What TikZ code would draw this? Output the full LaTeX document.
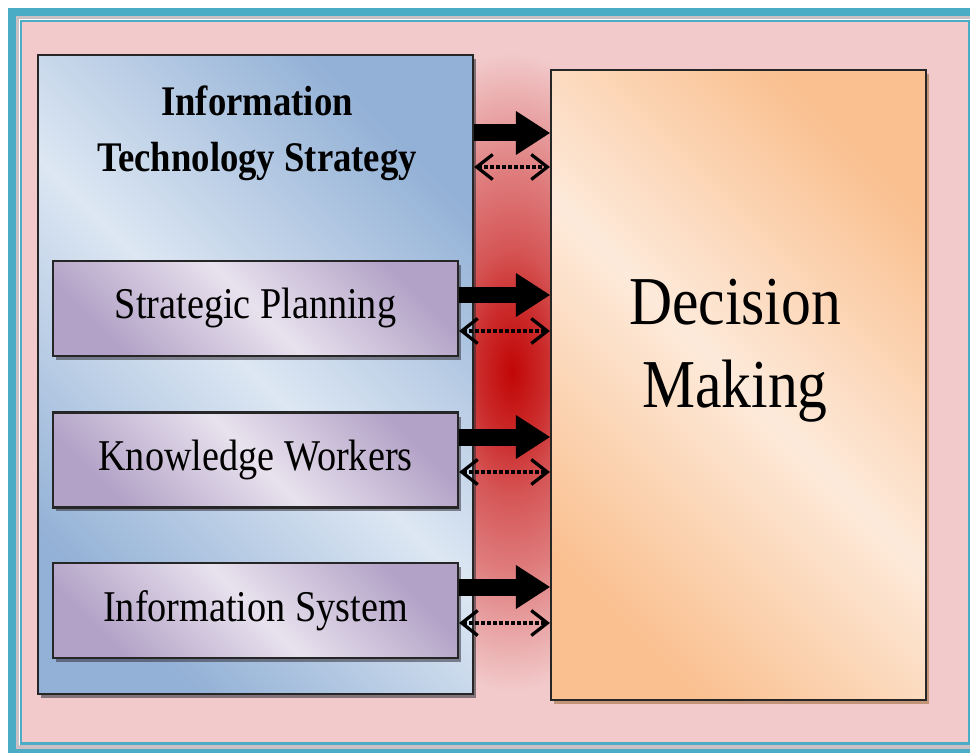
\documentclass[tikz,border=0pt]{standalone}
\usepackage{fontspec}
\setmainfont{Liberation Serif}[FakeStretch=0.87]
\usepackage{xcolor}
\usetikzlibrary{positioning}
\usetikzlibrary{arrows.meta}
\usetikzlibrary{shadows}

\definecolor{frameteal}{HTML}{4BACC6}
\definecolor{framegray}{HTML}{C9BFC4}
\definecolor{bgpink}{HTML}{F2CACB}
\definecolor{glowred}{HTML}{C20606}
\definecolor{bluedark}{HTML}{93B1D6}
\definecolor{bluelight}{HTML}{DDE7F3}
\definecolor{purpledark}{HTML}{B3A2C7}
\definecolor{purplelight}{HTML}{E8E2EE}
\definecolor{peachdark}{HTML}{FAC090}
\definecolor{peachlight}{HTML}{FDEADA}

\pgfdeclareradialshading{redglow}{\pgfpoint{0bp}{0bp}}{color(0bp)=(glowred); color(5.5bp)=(glowred!80!bgpink); color(9.5bp)=(glowred!60!bgpink); color(15.5bp)=(glowred!40!bgpink); color(22bp)=(glowred!12!bgpink); color(25bp)=(bgpink); color(50bp)=(bgpink)}

\tikzset{
  boxline/.style={draw=black!85, line width=0.045cm, inner sep=0pt},
  itbox/.style={boxline, top color=bluedark, bottom color=bluedark, middle color=bluelight,
    shading angle=-45, minimum width=8.7cm, minimum height=12.78cm,
    drop shadow={shadow xshift=0.06cm, shadow yshift=-0.08cm, fill=black!75!bluedark, opacity=0.55}},
  subbox/.style={boxline, top color=purpledark, bottom color=purpledark, middle color=purplelight,
    shading angle=-45, minimum width=8.1cm, minimum height=1.9cm,
    font=\fontsize{25}{30}\selectfont,
    drop shadow={shadow xshift=0.06cm, shadow yshift=-0.08cm, fill=black!70!purpledark, opacity=0.55}},
  dmbox/.style={boxline, top color=peachdark, bottom color=peachdark, middle color=peachlight,
    shading angle=-45, minimum width=7.5cm, minimum height=12.6cm,
    drop shadow={shadow xshift=0.06cm, shadow yshift=-0.08cm, fill=brown!80!black, opacity=0.55}},
  ittitle/.style={font=\bfseries\fontsize{24}{32}\selectfont, align=center, inner sep=0pt},
  dmname/.style={font=\fontsize{39}{47}\selectfont, align=center, inner sep=0pt},
  bigarrow/.style={line width=0.34cm, -{Triangle[length=0.68cm, width=0.88cm, line width=0pt]}},
  duoarrow/.style={line width=0.065cm, dash pattern=on 0.065cm off 0.055cm,
    {Straight Barb[length=0.32cm, width=0.5cm]}-{Straight Barb[length=0.32cm, width=0.5cm]}}
}

\begin{document}
\begin{tikzpicture}[x=0.02cm, y=0.02cm]

  % canvas in pixel units, y going down as negative values
  \useasboundingbox (0,0) rectangle (970,-753);
  \clip (0,0) rectangle (970,-753);

  % background and frame
  \fill[bgpink] (21,-21) rectangle (969,-743.5);
  \draw[frameteal, line width=0.16cm] (12,-12) rectangle (978,-752.5);
  \draw[framegray, line width=0.07cm] (17.5,-17.5) rectangle (972.5,-747);
  \draw[frameteal, line width=0.05cm] (21,-21) rectangle (969,-743.5);

  % red glow in the gap
  \shade[shading=redglow] (512,-372) ellipse [x radius=160, y radius=320];

  % IT strategy block
  \node[itbox] (its) at (255.5,-374.5) {};
  \node[ittitle] (itsname) at (257,-133) {Information\\Technology Strategy};

  % its components
  \node[subbox] (plan) at (255.5,-308.5) {Strategic Planning};
  \node[subbox] (know) at (255.5,-460) {Knowledge Workers};
  \node[subbox] (isys) at (255.5,-610.5) {Information System};

  % decision block
  \node[dmbox] (dm) at (738.5,-385) {};
  \node[dmname] (dmname) at (735,-350.5) {Decision\\Making};

  % links
  \draw[bigarrow] (its.east |- 0,-133) -- (dm.west |- 0,-133);
  \draw[duoarrow] (its.east |- 0,-167) -- (dm.west |- 0,-167);

  \draw[bigarrow] (plan.east |- 0,-295) -- (dm.west |- 0,-295);
  \draw[duoarrow] (plan.east |- 0,-331) -- (dm.west |- 0,-331);

  \draw[bigarrow] (know.east |- 0,-437) -- (dm.west |- 0,-437);
  \draw[duoarrow] (know.east |- 0,-472) -- (dm.west |- 0,-472);

  \draw[bigarrow] (isys.east |- 0,-587) -- (dm.west |- 0,-587);
  \draw[duoarrow] (isys.east |- 0,-623) -- (dm.west |- 0,-623);

\end{tikzpicture}
\end{document}
